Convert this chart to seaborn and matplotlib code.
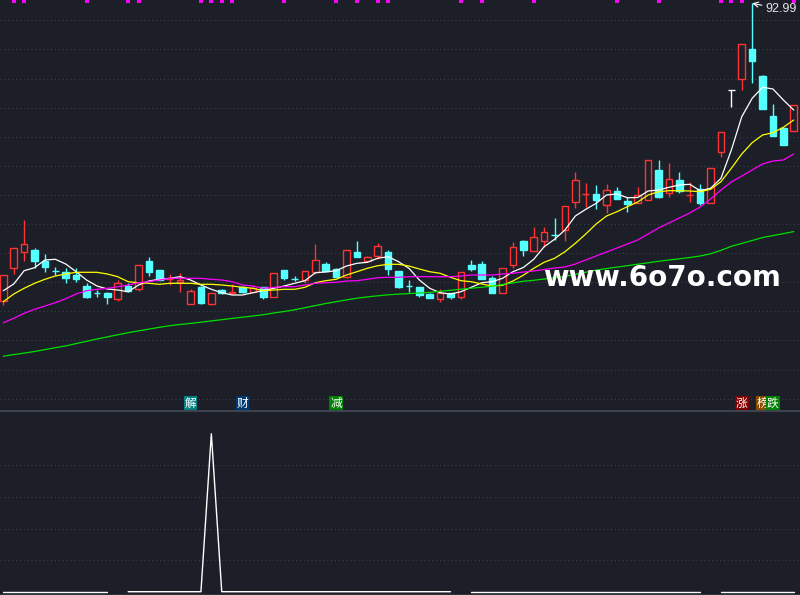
import numpy as np
import pandas as pd
import seaborn as sns
import matplotlib.pyplot as plt
from matplotlib.transforms import blended_transform_factory

# daily candles (price units)
opens = [33.52, 40.00, 43.32, 43.66, 41.46, 39.50, 39.32, 38.66, 36.52, 35.02,
         35.00, 33.96, 36.56, 35.80, 41.46, 39.66, 37.80, 37.32, 32.92, 36.20,
         32.80, 35.66, 35.00, 36.20, 35.32, 36.20, 34.32, 39.66, 37.88, 37.66,
         39.32, 40.86, 39.80, 38.20, 43.32, 41.46, 42.52, 43.32, 39.46, 36.54,
         36.20, 34.86, 33.80, 35.00, 34.20, 40.66, 40.86, 38.00, 35.00, 40.60,
         45.46, 43.52, 45.46, 46.62, 47.60, 53.20, 54.78, 54.86, 52.60, 55.40,
         53.46, 53.00, 53.66, 59.66, 55.00, 57.66, 54.64, 55.80, 53.00, 63.32,
         75.66, 77.80, 83.80, 78.46, 70.46, 68.00, 67.40]
highs = [38.66, 44.00, 49.66, 44.00, 42.92, 40.20, 40.00, 40.00, 37.00, 35.66,
         35.32, 37.66, 37.16, 40.66, 42.20, 39.66, 38.86, 38.99, 35.80, 36.46,
         35.00, 35.92, 36.86, 36.52, 36.46, 36.20, 39.00, 39.66, 38.46, 39.46,
         44.86, 41.32, 40.00, 43.66, 45.46, 42.52, 45.06, 43.66, 39.46, 37.66,
         36.20, 35.12, 35.80, 35.00, 39.20, 41.66, 41.46, 38.46, 40.00, 45.26,
         45.66, 48.32, 48.32, 49.99, 52.52, 59.26, 57.00, 56.66, 56.86, 56.20,
         54.20, 56.26, 61.66, 61.66, 61.00, 59.20, 57.20, 56.80, 60.00, 67.32,
         75.66, 84.80, 92.99, 78.66, 72.80, 68.06, 72.60]
lows = [32.60, 38.80, 41.52, 40.00, 39.32, 38.66, 37.00, 37.32, 33.98, 34.20,
        32.86, 33.52, 35.36, 35.52, 38.46, 37.66, 36.66, 35.32, 32.92, 32.92,
        32.70, 34.80, 34.80, 35.06, 35.20, 33.92, 34.32, 37.66, 37.46, 37.00,
        38.86, 39.46, 38.32, 38.06, 42.20, 41.20, 41.80, 38.72, 36.00, 35.32,
        34.32, 34.12, 33.32, 33.92, 33.92, 39.52, 37.80, 35.12, 35.00, 40.16,
        42.52, 43.52, 44.20, 45.66, 45.52, 52.00, 52.32, 51.80, 51.12, 53.92,
        51.32, 53.00, 53.66, 54.12, 54.32, 55.12, 53.20, 52.66, 53.00, 62.32,
        72.20, 75.66, 77.12, 71.92, 66.46, 64.66, 67.40]
closes = [38.66, 44.00, 44.80, 41.52, 40.20, 39.42, 38.12, 37.86, 34.32, 34.98,
          34.32, 37.16, 35.46, 40.66, 39.32, 37.76, 37.92, 37.66, 35.46, 33.12,
          35.00, 35.12, 35.26, 35.26, 36.06, 34.20, 39.00, 38.12, 37.84, 39.46,
          41.60, 39.46, 38.32, 43.66, 42.20, 42.20, 44.46, 39.86, 36.20, 36.50,
          34.66, 34.12, 35.00, 34.32, 39.20, 39.86, 37.80, 35.12, 40.00, 44.20,
          43.66, 46.20, 47.26, 46.58, 52.52, 57.60, 54.82, 53.66, 55.60, 53.92,
          52.92, 54.56, 61.66, 54.32, 57.80, 55.52, 54.68, 53.12, 60.00, 67.32,
          75.66, 84.80, 81.52, 71.92, 66.46, 64.66, 72.60]

# moving average lines
ma5 = [35.52, 36.86, 39.52, 40.12, 41.66, 41.80, 40.86, 39.32, 37.66, 36.46,
       35.86, 35.66, 35.32, 36.66, 37.46, 37.80, 38.00, 38.32, 37.66, 36.66,
       35.80, 35.12, 34.66, 34.66, 35.12, 35.56, 36.00, 36.46, 37.00, 37.52,
       39.12, 39.26, 39.52, 40.46, 41.00, 41.20, 42.00, 42.32, 41.32, 40.00,
       37.66, 36.00, 35.12, 34.86, 35.32, 36.20, 37.12, 37.32, 38.00, 39.32,
       40.16, 41.80, 44.32, 45.80, 47.66, 50.46, 51.80, 53.00, 54.66, 54.86,
       54.12, 54.16, 55.46, 55.66, 56.20, 56.66, 56.80, 55.52, 56.00, 58.00,
       63.66, 70.32, 74.00, 76.20, 75.86, 73.66, 71.66]
ma10 = [33.32, 34.86, 36.00, 37.00, 37.80, 38.46, 38.86, 39.20, 39.20, 39.20,
        38.86, 38.32, 37.32, 37.12, 37.00, 36.80, 37.00, 37.00, 37.00, 36.80,
        36.80, 36.66, 36.46, 36.20, 36.00, 35.52, 35.66, 35.80, 35.80, 36.20,
        37.12, 37.52, 37.80, 38.66, 39.32, 40.00, 40.52, 40.80, 40.80, 40.46,
        39.86, 39.32, 39.00, 38.20, 37.52, 37.32, 36.86, 36.46, 36.60, 37.46,
        38.62, 40.00, 41.20, 42.00, 43.32, 45.00, 46.86, 48.86, 50.46, 51.32,
        52.32, 53.26, 54.66, 55.32, 55.52, 55.52, 55.46, 55.32, 55.80, 57.32,
        60.00, 62.86, 65.12, 66.66, 67.12, 68.20, 69.66]
ma20 = [29.12, 30.00, 31.00, 31.80, 32.46, 33.12, 33.92, 34.86, 35.52, 35.80,
        36.00, 36.32, 36.66, 37.12, 37.32, 37.66, 38.00, 38.00, 38.00, 38.00,
        37.80, 37.66, 37.32, 36.66, 36.46, 36.00, 36.20, 36.32, 36.32, 36.66,
        37.00, 37.12, 37.20, 37.46, 37.52, 37.80, 38.12, 38.20, 38.20, 38.32,
        38.32, 38.32, 38.32, 38.32, 38.46, 38.66, 38.66, 38.66, 38.86, 39.00,
        39.26, 39.46, 39.76, 40.06, 40.26, 40.86, 41.66, 42.46, 43.26, 44.06,
        44.86, 45.66, 46.86, 48.06, 49.06, 50.06, 51.06, 52.26, 53.86, 55.66,
        57.26, 58.46, 59.66, 60.86, 61.46, 61.66, 62.86]
ma60 = [22.42, 22.74, 23.04, 23.36, 23.74, 24.12, 24.48, 24.94, 25.40, 25.86,
        26.28, 26.70, 27.12, 27.48, 27.84, 28.20, 28.52, 28.76, 28.98, 29.22,
        29.48, 29.72, 29.98, 30.22, 30.46, 30.72, 31.06, 31.36, 31.70, 32.12,
        32.54, 32.96, 33.32, 33.68, 34.02, 34.28, 34.50, 34.70, 34.84, 34.94,
        35.06, 35.18, 35.40, 35.60, 35.82, 36.02, 36.22, 36.42, 36.76, 37.08,
        37.42, 37.60, 37.86, 38.12, 38.38, 38.80, 39.22, 39.64, 39.94, 40.24,
        40.52, 40.82, 41.10, 41.40, 41.66, 41.90, 42.16, 42.46, 42.90, 43.60,
        44.40, 44.98, 45.56, 46.16, 46.54, 46.94, 47.34]

# lower indicator panel (gaps where no value)
nan = float("nan")
signal = [0, 0, 0, 0, 0, 0, 0, 0, 0, 0,
          0, nan, 0, 0, 0, 0, 0, 0, 0, 0,
          5, 0, 0, 0, 0, 0, 0, 0, 0, 0,
          0, 0, 0, 0, 0, 0, 0, 0, 0, 0,
          0, 0, 0, 0, nan, 0, 0, 0, 0, 0,
          0, 0, 0, 0, 0, 0, 0, 0, 0, 0,
          0, 0, 0, 0, 0, 0, 0, 0, nan, 0,
          0, 0, 0, 0, 0, 0, 0]

top_marks = [1, 2, 8, 12, 13, 19, 20, 21, 22, 27, 32, 34, 36, 37,
             44, 46, 51, 59, 63, 69, 70, 71, 76]
tag_text = ["解", "财", "减", "涨", "榜", "跌"]
tag_pos = [18, 23, 32, 71, 73, 74]
tag_color = ["#008080", "#003a70", "#008000", "#800000", "#8a4a00", "#008000"]
peak_label = "92.99"
watermark = "www.6o7o.com"

BG = "#1c1f27"
RED = "#ff3333"
CYAN = "#55ffff"
GRID = "#3a3f4a"

sns.set_theme(style="dark", rc={"axes.facecolor": BG, "figure.facecolor": BG})
plt.rcParams["font.family"] = ["DejaVu Sans", "Noto Sans CJK SC"]

fig = plt.figure(figsize=(8, 5.95), dpi=100)
ax = fig.add_axes([0, 184 / 595, 1, 411 / 595])
ax2 = fig.add_axes([0, 0, 1, 184 / 595])

df = pd.DataFrame({"o": opens, "h": highs, "l": lows, "c": closes})
df["i"] = np.arange(len(df))
up = df[df.c > df.o]
down = df[df.c < df.o]
flat = df[df.c == df.o]
w = 0.64

# falling candles: filled cyan
ax.vlines(down.i, down.l, down.h, color=CYAN, lw=1, zorder=2)
ax.bar(down.i, down.o - down.c, bottom=down.c, width=w, color=CYAN,
       edgecolor=CYAN, linewidth=1, zorder=3)
# rising candles: hollow red
ax.vlines(up.i, up.c, up.h, color=RED, lw=1, zorder=2)
ax.vlines(up.i, up.l, up.o, color=RED, lw=1, zorder=2)
ax.bar(up.i, up.c - up.o, bottom=up.o, width=w, facecolor=BG,
       edgecolor=RED, linewidth=1, zorder=3)
# unchanged candles: white
ax.vlines(flat.i, flat.l, flat.h, color="white", lw=1, zorder=3)
ax.hlines(flat.c, flat.i - w / 2, flat.i + w / 2, color="white", lw=1, zorder=3)

ma = pd.DataFrame({"i": np.tile(df.i, 4),
                   "v": ma5 + ma10 + ma20 + ma60,
                   "line": ["ma5"] * 77 + ["ma10"] * 77 + ["ma20"] * 77 + ["ma60"] * 77})
sns.lineplot(data=ma, x="i", y="v", hue="line", ax=ax, legend=False, lw=0.9,
             palette={"ma5": "white", "ma10": "#ffff00", "ma20": "#ff00ff", "ma60": "#00e000"},
             zorder=4)

ax.annotate(peak_label, xy=(72, 92.99), xytext=(9.3, -4), textcoords="offset points",
            ha="left", va="center", color="#e6e6e6", fontsize=9, family="Liberation Sans",
            arrowprops=dict(arrowstyle="->", color="white", lw=0.8, shrinkA=0, shrinkB=0),
            zorder=6)

trans = blended_transform_factory(ax.transData, ax.transAxes)
ax.scatter(top_marks, [0.9964] * len(top_marks), transform=trans, marker="s",
           s=5, color="#ff00ff", linewidths=0, clip_on=False, zorder=6)
for t, p, col in zip(tag_text, tag_pos, tag_color):
    ax.text(p, 0.0182, t, transform=trans, ha="center", va="center", color="white",
            fontsize=8.5, family=["Noto Sans CJK SC"], zorder=6,
            bbox=dict(boxstyle="square,pad=0.08", fc=col, ec="none"))

ax.text(0.827, 0.305, watermark, transform=ax.transAxes, ha="center", va="baseline",
        color="white", fontsize=20, fontweight="bold", family="DejaVu Sans", zorder=7)

ax.set_xlim(-0.32, 76.6)
ax.set_ylim(11.46, 93.66)
ax.set_yticks(89.6 - 5.82 * np.arange(14))

low = pd.DataFrame({"i": df.i, "v": signal})
low["seg"] = low.v.isna().cumsum()
low = low.dropna()
sns.lineplot(data=low, x="i", y="v", units="seg", estimator=None, ax=ax2,
             color="white", lw=1)
ax2.set_xlim(-0.32, 76.6)
ax2.set_ylim(-0.104, 5.72)
ax2.set_yticks([1, 2, 3, 4])

for a in (ax, ax2):
    a.set_facecolor(BG)
    a.set(xlabel=None, ylabel=None)
    a.set_xticks([])
    a.tick_params(left=False, labelleft=False, bottom=False, labelbottom=False)
    a.grid(axis="y", color=GRID, lw=0.8, ls=(0, (1, 2.5)))
    a.grid(axis="x", visible=False)
    for s in a.spines.values():
        s.set_visible(False)
ax2.spines["top"].set_visible(True)
ax2.spines["top"].set_color("#3d424e")
ax2.spines["top"].set_linewidth(1.5)
ax2.spines["bottom"].set_visible(True)
ax2.spines["bottom"].set_color("#2e333e")
ax2.spines["bottom"].set_linewidth(1.5)

fig.savefig("out.png", dpi=100, facecolor=BG)
